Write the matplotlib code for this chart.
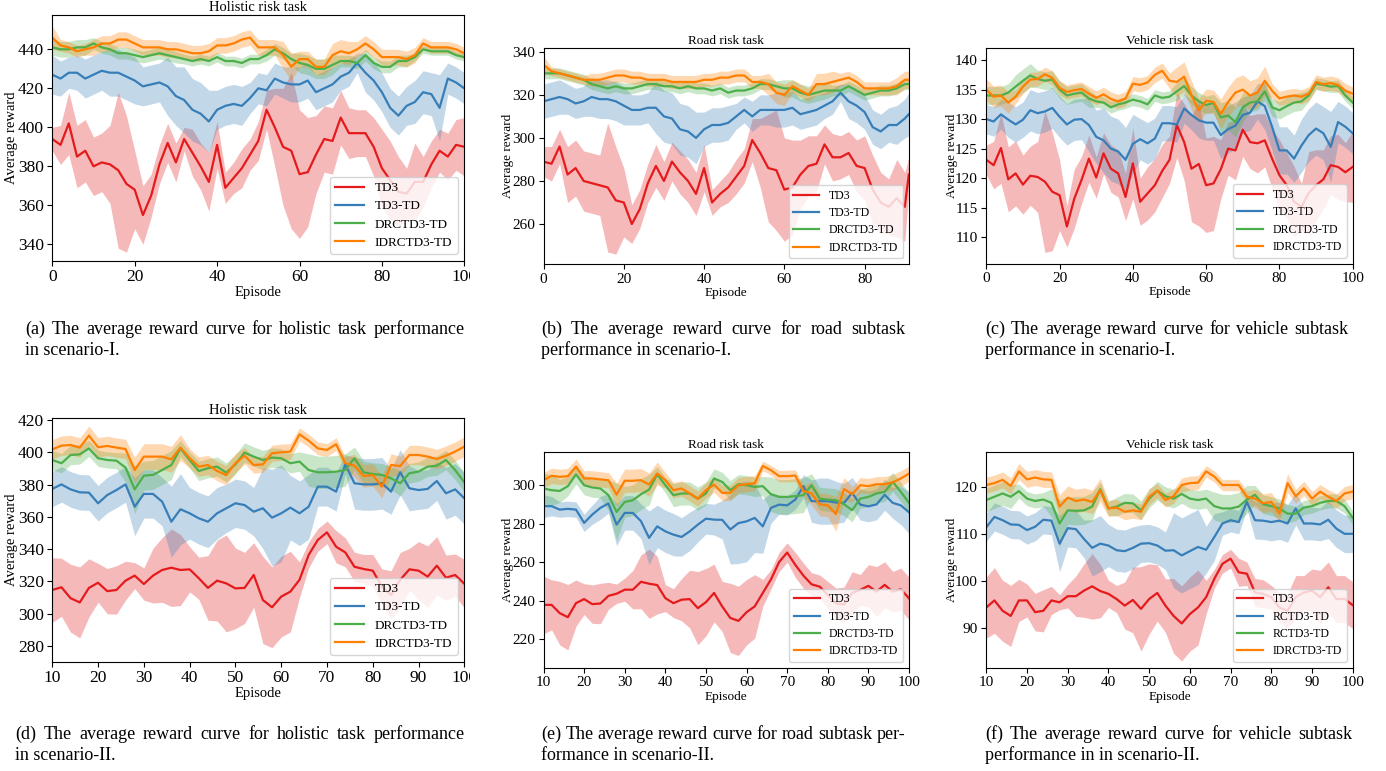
import numpy as np
import matplotlib
matplotlib.use("Agg")
import matplotlib.pyplot as plt
from matplotlib.transforms import IdentityTransform, Bbox

plt.rcParams['font.family'] = ['Liberation Serif', 'DejaVu Serif']

# ---------------- data ----------------
series_labels = ["TD3", "TD3-TD", "DRCTD3-TD", "IDRCTD3-TD"]
series_labels_f = ["TD3", "RCTD3-TD", "RCTD3-TD", "IDRCTD3-TD"]
colors = ["#e41a1c", "#377eb8", "#4daf4a", "#ff7f00"]

titles = ["Holistic risk task", "Road risk task", "Vehicle risk task",
          "Holistic risk task", "Road risk task", "Vehicle risk task"]

ep_top = list(range(0, 101, 2))
ep_b = list(range(0, 91, 2)) + [91]
ep_bot = list(range(10, 101, 2))

# (a)
a_td3 = [394,391,402,385,388,380,382,381,378,371, 368,355,365,381,392,382,394,387,380,372,
         391,369,374,379,386,393,409,400,390,388, 376,377,386,394,393,405,397,397,397,390,
         379,373,367,366,372,372,381,388,385,391, 390]
a_td3_sd = [6,10,16,16,16,15,15,20,40,35, 20,15,11,10,10,10,6,12,12,15,
            12,8,8,10,8,10,10,20,30,40, 33,28,20,17,17,14,13,12,12,15,
            20,20,18,13,20,13,12,11,12,13, 15]
a_td3td = [427,425,428,428,425,427,429,428,428,426, 424,421,422,423,421,416,414,409,407,403,
           409,411,412,411,415,420,419,425,423,422, 422,424,418,420,422,426,428,433,428,424,
           418,410,406,411,413,418,417,410,425,423, 420]
a_td3td_sd = [10,9,8,9,10,10,10,12,12,12, 12,10,10,10,15,15,17,16,16,16,
              10,10,10,10,8,8,8,8,8,9, 9,9,9,9,9,7,7,5,10,10,
              10,10,10,10,11,11,11,17,8,8, 8]
a_drc = [441,440,440,441,441,443,441,440,438,438, 437,436,437,438,437,436,435,434,435,434,
         436,434,434,433,435,435,437,440,438,435, 433,432,430,430,432,434,434,433,437,433,
         431,431,434,434,436,440,439,439,439,437, 436]
a_drc_sd = [4,4,4,4,4,3,3,3,3,3, 3,3,3,3,3,3,2.5,2.5,2.5,2.5,
            2.5,2.5,2.5,2.5,2.5,2.5,3,3,3,3, 5,5,5,5,5,3,3,3,3,3,
            3,3,3,3,2,2,2,2,2,2, 2]
a_idr = [446,442,441,439,440,441,443,443,445,445, 443,441,441,441,440,440,439,438,438,439,
         442,442,443,445,446,441,441,441,437,431, 435,435,431,431,437,439,438,440,443,440,
         436,436,436,435,437,443,441,441,441,440, 438]
a_idr_sd = [6,3,3,3,3,4,4,4,4,4, 4,4,4,4,4,4,4,4,4,4,
            4,4,4,4,4,4,4,4,7,7, 4,4,4,4,6,6,6,4,4,4,
            4,4,4,4,4,3,3,3,3,3, 3]

# (b)
b_td3 = [289,288,296,283,286,280,279,278,277,271, 270,260,267,279,287,280,289,284,280,274,
         286,270,274,277,282,287,299,293,286,285, 276,277,283,287,288,297,291,291,293,287,
         286,276,270,268,272,268,283]
b_td3_sd = [7,8,8,13,13,14,14,14,30,25, 16,9,9,9,10,9,9,10,10,10,
            11,6,6,7,8,8,10,16,25,28, 24,22,16,14,13,9,11,10,10,12,
            15,16,14,13,18,16,8]
b_td3td = [317,318,319,318,316,317,319,318,318,317, 315,313,313,314,314,310,309,304,303,300,
           304,306,306,307,310,313,310,313,313,313, 313,314,311,312,313,315,317,321,317,315,
           312,305,303,306,306,309,311]
b_td3td_sd = [8,8,8,7,7,7,9,9,9,9, 9,7,7,7,12,12,12,12,12,12,
              8,8,8,8,6,6,7,7,7,8, 8,8,7,7,7,6,6,4,8,8,
              8,8,8,8,9,9,10]
b_drc = [330,330,330,329,328,327,325,324,323,324, 323,323,324,325,325,324,324,323,324,323,
         323,322,323,321,322,322,323,325,325,324, 323,323,321,320,321,322,322,322,324,322,
         320,321,322,322,323,325,325]
b_drc_sd = [2.5,2.5,2.5,2.5,2.5,2.5,2.5,2.5,2.5,2.5, 2.5,2.5,2.5,2.5,2.5,2.5,2.5,2.5,2.5,2.5,
            2.5,2.5,2.5,2.5,2.5,2.5,2.5,2.5,2.5,2.5, 4,4,4,4,4,4,2.5,2.5,2.5,2.5,
            2.5,2.5,2.5,2.5,2.5,2.5,2.5]
b_idr = [334,331,330,329,328,327,327,327,328,329, 329,328,328,327,327,327,326,326,326,326,
         327,327,328,328,329,329,326,326,325,321, 320,324,322,320,325,325,326,327,328,326,
         323,323,323,323,324,327,327]
b_idr_sd = [4,2,2,2,2,2,3,3,3,3, 3,3,3,3,3,3,3,3,3,3,
            3,3,3,3,3,3,3,3,5,5, 5,3,3,3,5,5,5,3,3,3,
            3,3,3,3,4,4,4]

# (c)
c_td3 = [123.1,122.2,125.1,119.8,120.8,118.9,120.4,120.2,119.4,117.7,
         117.1,111.8,116.5,119.7,123.3,120.1,124.2,121.6,120.8,116.8,
         122.5,116.0,117.4,118.8,121.2,123.1,129.0,126.1,121.6,122.4,
         118.8,119.1,121.5,125.0,124.7,128.2,126.1,125.9,126.4,123.3,
         120.5,118.8,116.0,115.1,117.5,118.8,119.8,122.2,121.9,121.0, 121.9]
c_td3_sd = [2.5,4,6,5.5,5.5,5,5,6,12,10, 6,3.5,5,4,4,3.5,3.5,4,4,4,
            6,4,4.5,4.5,4.5,4,5.5,6.5,9,10.5, 8,8,5,4.5,5,4.5,4.5,5,4.5,5,
            6,5.5,6,4,7,6,5,5,5.5,5, 6]
c_td3td = [130.0,129.6,130.8,129.9,129.1,129.9,131.5,131.0,131.3,131.9,
           130.4,129.1,129.9,130.0,129.0,127.0,126.4,125.0,124.5,123.1,
           125.8,126.6,125.9,126.7,129.3,129.3,129.1,131.8,130.7,129.8,
           129.4,129.4,127.3,128.3,128.9,130.7,131.1,133.0,132.2,128.7,
           124.7,124.7,123.3,125.5,127.3,128.4,127.6,125.3,129.5,128.7, 127.6]
c_td3td_sd = [2.5,2.5,2.5,3,3,3,3.5,3.5,3.5,3.5, 3.5,3.5,3.5,3.5,4.5,4.5,5.5,5.5,5.5,5.5,
              5,3.5,3.5,3.5,3,3,3,2.5,2.5,3, 3,3,4,4,4,3,3,3,4,4,
              4,4,4,4.5,4.5,4.5,4.5,6,3.5,3.5, 3.5]
c_drc = [134,134,134,134.5,135.5,136.5,137.4,136.8,136.5,136.7,
         135,134,134.3,134.5,133.5,133,132.8,132,132.5,132.8,
         133.3,133,132.5,134,133.6,133.8,134.7,135.6,134,133,
         132.4,132.7,130.3,130.6,129.5,132,132.8,133,134.7,132,
         131.5,132.2,132.8,133,134,136,135.8,135.5,135.6,134, 132.8]
c_drc_sd = [1.5,1.5,1.5,1.5,2,2,2,1.5,1.5,1.5, 1.5,1.5,1.5,1.5,1.5,1,1,1,1,1,
            1,1,1,1,1,1,1.5,1.5,1.5,1.5, 1.5,1.5,2.5,2.5,2.5,2.5,1.5,1.5,1.5,1.5,
            1.5,1.5,1.5,1.5,1,1,1,1,1,1, 1]
c_idr = [135,133.8,134,132.8,133.8,135.5,136.7,136.8,137.6,137,
         135.3,134.6,134.9,135.1,134.3,133.6,134.2,133.4,133,133.5,
         136,135.8,136.2,137.5,138.2,136.5,136.3,137.2,134,131.5,
         133.1,132.9,130.9,132.9,134.5,135,134,134.5,136.5,134.8,
         133.5,133.8,134,133.8,134.3,136.3,135.9,136.1,135.8,134.8, 134.3]
c_idr_sd = [1.8,1.8,1.8,1.8,1.2,1.2,1.2,1.2,1.2,1.2, 1.2,1.2,1.2,1.2,1.2,1.2,1.2,1.2,1.2,1.2,
            1.2,1.2,1.2,1.3,1.3,1.3,2.5,2.5,2.5,2, 2,2,2.5,2.5,2.5,2.5,2.5,2.5,2.5,1.2,
            1.2,1.2,1.2,1.2,1.2,1.2,1.2,1.2,1.2,1.2, 1.2]

# (d)
d_td3 = [314.7,316.4,309.6,307.0,316.0,319.2,314.0,314.7,320.5,323.6,
         318.4,323.6,327.1,328.5,327.1,327.5,322.0,316.0,320.5,318.8,
         315.7,316.0,324.0,308.5,304.0,310.6,313.7,321.0,336.4,345.7,
         350.4,341.5,338.0,329.1,327.7,326.7,316.8,311.6,321.0,327.5,
         326.7,323.0,329.8,322.3,324.0,318.6]
d_td3_sd = [20,18,21,22,18,12,14,15,12,8, 10,17,20,24,22,14,13,20,25,30,
            25,22,20,27,25,25,25,11,8,7, 7,10,9,9,9,10,11,15,17,13,
            18,19,18,14,13,15]
d_td3td = [377.3,380.1,377.0,375.2,375.0,368.4,373.5,376.6,380.1,366.3,
           374.2,374.2,369.4,357.0,364.7,362.2,359.1,357.0,362.2,365.3,
           368.4,367.3,363.2,365.3,359.5,362.2,365.7,362.2,366.3,378.7,
           378.7,375.6,392.5,380.8,380.1,380.1,380.8,375.6,387.6,377.7,
           376.6,377.3,382.2,374.6,377.0,371.5]
d_td3td_sd = [11,11,11,11,11,11,11,11,11,18, 15,15,15,22,22,16,16,16,16,15,
              15,15,15,25,30,30,20,20,20,12, 12,12,6,16,16,16,16,14,14,14,
              12,12,12,16,16,16]
d_drc = [395.2,393.2,398.3,398.7,402.4,396.3,395.2,394.8,390.5,377.0,
         385.5,386.0,389.0,392.1,402.4,395.2,388.4,390.1,391.1,387.4,
         392.5,399.8,397.3,395.2,396.7,396.3,393.2,394.2,389.0,387.6,
         387.6,388.0,389.0,396.3,387.6,386.5,386.0,383.9,380.8,387.0,
         388.0,391.1,391.7,395.2,389.0,381.4]
d_drc_sd = [6,6,6,6,5,5,5,5,9,15, 9,9,9,9,5,5,6,6,6,6,
            6,6,6,6,6,6,6,6,10,10, 10,10,10,7,7,7,7,7,8,6,
            6,6,6,6,6,6]
d_idr = [401.8,404.1,404.5,402.9,410.3,403.1,403.9,402.9,402.0,389.0,
         397.3,397.3,397.3,395.6,402.9,396.3,391.1,392.1,388.4,385.9,
         393.2,397.9,392.1,392.5,399.4,400.0,400.4,411.1,407.2,402.4,
         401.4,405.0,393.2,391.7,385.3,385.9,378.7,392.1,391.5,398.3,
         398.3,397.3,395.8,397.9,400.4,403.5]
d_idr_sd = [6,6,6,6,6,6,6,6,6,8, 8,8,8,8,8,6,6,6,6,6,
            6,5,5,5,5,5,5,4,4,4, 4,4,4,7,7,7,7,7,6,6,
            6,6,6,6,6,6]

# (e)
e_td3 = [237.8,237.8,233.5,231.4,238.7,240.8,238.2,238.5,242.5,243.6,
         245.7,245.7,249.8,248.8,248.1,241.3,238.7,240.5,240.8,236.1,
         239.2,244.0,237.0,231.0,229.5,234.0,237.0,244.0,251.0,260.0,
         265.0,258.6,253.0,248.5,247.3,243.0,238.6,238.0,244.0,245.6,
         247.7,244.7,248.2,244.7,245.9,241.2]
e_td3_sd = [15,13,16.5,17,12,8,10,10.5,7,5, 6,10,14,18,15,7,7.5,11,15,19,
            17.5,15,13,18,18,17,16.5,7,5,5, 5,6.5,6.5,6,6,7,8,9,11,8,
            11,13,12,10.5,11,11]
e_td3td = [289.1,289.1,287.3,287.7,287.3,280.4,284.7,288.2,290.5,279.5,
           285.6,285.6,281.3,272.6,278.6,276.0,274.3,273.1,276.0,279.5,
           282.6,282.1,282.0,277.0,280.3,281.2,283.0,278.6,288.2,289.9,
           289.5,292.5,299.5,291.7,291.7,291.7,291.0,290.8,296.0,289.9,
           289.0,290.0,295.0,290.8,289.5,285.9]
e_td3td_sd = [6,5,4,4,4,4.5,5,6,5,11, 9,9,9,14,11,11,11,10,10,9,
              8,8,10,18,21,21,18,14,8,5, 5,5,6,11,12,12,11,10,8,8,
              8,8,8,8,10,11]
e_drc = [298.3,297.4,297.0,299.5,305.6,300.0,298.8,298.3,294.8,286.1,
         291.3,292.2,295.3,297.7,305.6,300.0,294.8,295.7,295.7,293.0,
         295.7,303.5,301.7,297.4,300.5,300.0,299.1,299.5,295.3,293.9,
         293.9,294.3,294.8,300.0,293.0,292.5,292.2,290.1,287.0,293.0,
         293.9,295.7,296.5,301.7,296.5,290.8]
e_drc_sd = [8,8,6,5,5,5,5,5,8,15, 8,8,8,8,4,4,6,6,6,6,
            6,5,5,5,5,5,5,5,9,9, 9,9,9,6,6,6,6,6,6,5,
            5,5,5,5,5,5]
e_idr = [302.6,304.9,304.3,304.7,309.6,303.5,303.5,303.0,302.6,295.1,
         302.3,302.3,302.6,300.3,306.1,302.6,297.4,298.3,295.7,293.0,
         297.4,300.3,296.0,296.0,300.0,300.5,301.0,310.0,307.8,304.7,
         304.7,305.0,297.0,295.7,290.1,289.5,285.0,298.0,295.3,300.0,
         299.5,300.5,300.5,301.5,303.5,306.0]
e_idr_sd = [4,4,4,4,4,4,4,4,4,6, 6,6,6,6,6,4,4,4,4,4,
            4,4,4,4,4,4,4,2.5,2.5,3, 3,3,3,6,6,6,9,6,4,4,
            4,4,4,4,4,4]

# (f)
f_td3 = [94.4,95.9,93.7,92.6,95.9,95.9,93.4,93.7,95.9,95.5,
         96.8,96.8,98.0,98.9,97.9,97.3,96.2,94.8,96.0,94.1,
         96.2,97.5,94.8,92.6,91.0,93.0,94.4,96.6,100.5,103.7,
         104.8,101.9,101.6,97.6,97.3,96.6,94.4,93.7,96.6,97.6,
         98.0,96.6,98.7,96.2,96.2,94.9]
f_td3_sd = [6.5,7,6.5,6.5,4.5,3.5,4,4.5,3,1.6, 2.5,4.3,5.7,7,5.7,2.9,2.9,5,7,9,
            7.5,6,5.7,8,8,7.9,8,3.6,2,2, 2,3,2.5,3,3,2.5,3.2,3.6,4.6,3.6,
            4.6,5.7,5.4,5,5,5]
f_td3td = [111.5,113.7,113.0,112.1,112.0,110.9,111.6,113.1,112.9,108.0,
           111.3,111.1,109.0,107.1,108.0,107.6,106.6,106.4,107.1,108.0,
           108.1,107.6,106.5,106.6,105.5,106.4,107.3,106.7,109.4,112.3,
           113.0,112.6,116.9,113.0,112.9,112.6,112.9,112.3,115.5,112.3,
           112.3,112.1,113.1,111.2,110.1,110.1]
f_td3td_sd = [3,3,3,3,3,3,3,3,3,6, 4,4,4,6,6,4.5,4.5,4.5,4.5,4,
              4,4,4,8,8,8,8,5,5,2.5, 2.5,2.5,1.5,4,4,4,4,4,3.5,3.5,
              3.5,3.5,4,4,4,4]
f_drc = [117.3,118.0,118.7,118.0,119.2,117.6,117.1,117.4,116.7,112.3,
         115.1,115.0,115.1,115.9,119.6,115.5,115.9,116.7,116.6,115.1,
         117.6,119.3,118.1,117.6,118.6,117.6,117.3,117.6,116.0,115.5,
         115.5,115.9,117.4,118.4,116.4,116.0,115.5,114.4,114.4,115.7,
         116.0,116.7,117.1,117.1,116.0,113.5]
f_drc_sd = [2.5,2.5,2.5,2.5,1.5,1.5,1.5,1.5,3,5, 3,3,3,3,1.5,1.5,2,2,2,2,
            2,2,2,2,2,2,2,2,3,3, 3,3,3,2,2,2,2,2,1.5,1.5,
            1.5,1.5,1.5,1.5,1.5,1.5]
f_idr = [120.5,120.9,121.6,120.3,123.4,121.7,122.1,121.7,121.6,115.9,
         117.8,117.1,117.4,116.9,119.4,115.5,115.7,114.8,115.1,114.8,
         118.0,119.3,117.3,118.1,120.5,120.9,121.0,123.4,122.3,120.5,
         120.5,120.5,118.0,117.6,116.6,116.9,114.4,120.9,118.1,119.8,
         117.6,119.1,118.0,117.1,118.7,119.1]
f_idr_sd = [1.7,1.7,1.7,1.7,1.7,1.7,1.7,1.7,1.7,2.5, 2.5,2.5,2.5,2.5,2.5,1.7,1.7,1.7,1.7,1.7,
            1.7,1.5,1.5,1.5,1.5,1.5,1.5,1.2,1.2,1.2, 1.2,1.2,1.2,2,2,2,2,2,1.5,1.5,
            1.5,1.5,1.5,1.5,1.5,1.5]

y_ticks = [[340,360,380,400,420,440], [260,280,300,320,340], [110,115,120,125,130,135,140],
           [280,300,320,340,360,380,400,420], [220,240,260,280,300], [90,100,110,120]]
x_ticks = [[0,20,40,60,80,100], [0,20,40,60,80], [0,20,40,60,80,100],
           list(range(10,101,10)), list(range(10,101,10)), list(range(10,101,10))]

captions = [
    ["(a) The average reward curve for holistic task performance", "in scenario-I."],
    ["(b) The average reward curve for road subtask", "performance in scenario-I."],
    ["(c) The average reward curve for vehicle subtask", "performance in scenario-I."],
    ["(d) The average reward curve for holistic task performance", "in scenario-II."],
    ["(e) The average reward curve for road subtask per-", "formance in scenario-II."],
    ["(f) The average reward curve for vehicle subtask", "performance in in scenario-II."],
]

# ---------------- layout (pixels) ----------------
W, H = 1386, 771
fig = plt.figure(figsize=(W / 100, H / 100), dpi=100)

panels = [
    dict(box=(52.3, 15.0, 464.3, 260.7), x=ep_top, ys=[a_td3, a_td3td, a_drc, a_idr],
         sds=[a_td3_sd, a_td3td_sd, a_drc_sd, a_idr_sd], xlim=(0, 100), ylim=(331.6, 457.6),
         big=True, ylab_px=18.5, clip_right=470),
    dict(box=(543.5, 47.7, 908.8, 264.3), x=ep_b, ys=[b_td3, b_td3td, b_drc, b_idr],
         sds=[b_td3_sd, b_td3td_sd, b_drc_sd, b_idr_sd], xlim=(0, 91), ylim=(241.3, 341.9),
         big=False, ylab_px=513.5, clip_right=None),
    dict(box=(986.3, 47.7, 1352.7, 263.7), x=ep_top, ys=[c_td3, c_td3td, c_drc, c_idr],
         sds=[c_td3_sd, c_td3td_sd, c_drc_sd, c_idr_sd], xlim=(0, 100), ylim=(105.5, 142.1),
         big=False, ylab_px=957.5, clip_right=None),
    dict(box=(52.3, 417.7, 464.3, 661.7), x=ep_bot, ys=[d_td3, d_td3td, d_drc, d_idr],
         sds=[d_td3_sd, d_td3td_sd, d_drc_sd, d_idr_sd], xlim=(10, 100), ylim=(270.3, 421.4),
         big=True, ylab_px=18.5, clip_right=470),
    dict(box=(543.5, 451.7, 909.0, 668.0), x=ep_bot, ys=[e_td3, e_td3td, e_drc, e_idr],
         sds=[e_td3_sd, e_td3td_sd, e_drc_sd, e_idr_sd], xlim=(10, 100), ylim=(205.0, 317.4),
         big=False, ylab_px=513.5, clip_right=None),
    dict(box=(986.3, 451.7, 1352.7, 668.0), x=ep_bot, ys=[f_td3, f_td3td, f_drc, f_idr],
         sds=[f_td3_sd, f_td3td_sd, f_drc_sd, f_idr_sd], xlim=(10, 100), ylim=(81.5, 127.6),
         big=False, ylab_px=957.5, clip_right=None),
]

for i, p in enumerate(panels):
    x0, y0, x1, y1 = p["box"]
    ax = fig.add_axes([x0 / W, 1 - y1 / H, (x1 - x0) / W, (y1 - y0) / H])
    xs = np.array(p["x"], dtype=float)
    labels = series_labels_f if i == 5 else series_labels
    for k in range(4):
        m = np.array(p["ys"][k], dtype=float)
        s = np.array(p["sds"][k], dtype=float)
        ax.fill_between(xs, m - s, m + s, color=colors[k], alpha=0.3, linewidth=0)
        ax.plot(xs, m, color=colors[k], lw=1.6, label=labels[k])
    ax.set_xlim(*p["xlim"])
    ax.set_ylim(*p["ylim"])
    ax.set_xticks(x_ticks[i])
    ax.set_yticks(y_ticks[i])
    big = p["big"]
    ax.tick_params(labelsize=12.5 if big else 11, length=3.5, width=0.8, pad=2.5)
    ax.set_title(titles[i], fontsize=10.5 if big else 9.5, pad=3)
    ax.set_xlabel("Episode", fontsize=10.5 if big else 9.5, labelpad=1)
    ax.set_ylabel("Average reward", fontsize=10.5 if big else 9.5)
    ax.yaxis.set_label_coords((p["ylab_px"] - x0) / (x1 - x0), 0.5)
    ax.legend(loc="lower right", fontsize=9.5 if big else 8.5, handlelength=2.2,
              borderpad=0.4, labelspacing=0.45, framealpha=0.8)
    if p["clip_right"] is not None:
        lab = ax.xaxis.get_major_ticks()[-1].label1
        lab.set_clip_on(True)
        lab.set_clip_box(Bbox.from_extents(0, 0, p["clip_right"], H))

# ---------------- captions (justified) ----------------
renderer = fig.canvas.get_renderer()
cap_fs = 13
cap_pos = [(25, 465, 334), (541, 905, 334), (985, 1348, 334),
           (15, 465, 739), (541, 905, 739), (985, 1352, 739)]
for lines, (cx0, cx1, yb) in zip(captions, cap_pos):
    for j, line in enumerate(lines):
        yy = H - (yb + 21 * j)
        if j == len(lines) - 1:
            fig.text(cx0, yy, line, transform=IdentityTransform(), fontsize=cap_fs,
                     va="baseline", ha="left")
        else:
            words = line.split()
            ts = [fig.text(0, yy, w, transform=IdentityTransform(), fontsize=cap_fs,
                           va="baseline", ha="left") for w in words]
            ws = [t.get_window_extent(renderer).width for t in ts]
            gap = (cx1 - cx0 - sum(ws)) / (len(words) - 1)
            xx = cx0
            for t, w in zip(ts, ws):
                t.set_x(xx)
                xx += w + gap

fig.savefig("out.png", dpi=100)
